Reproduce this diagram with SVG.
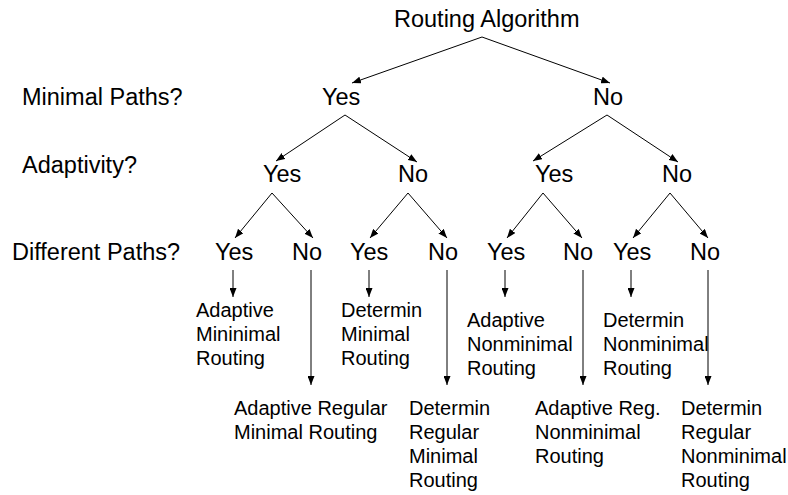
<svg xmlns="http://www.w3.org/2000/svg" width="788" height="495" viewBox="0 0 788 495">
  <style>
    text { font-family: "Liberation Sans", Arial, Helvetica, sans-serif; fill: #000; }
    .q { font-size: 23.5px; }
    .leaf { font-size: 20px; }
    .edge { stroke: #000; stroke-width: 1; fill: none; marker-end: url(#arrow); }
  </style>
  <defs>
    <marker id="arrow" viewBox="0 0 9 7" refX="9" refY="3.5" markerWidth="9" markerHeight="7" markerUnits="userSpaceOnUse" orient="auto">
      <path d="M0,0 L9,3.5 L0,7 z" fill="#000"/>
    </marker>
  </defs>

  <rect width="788" height="495" fill="#fff"/>

  <!-- question labels on the left -->
  <g id="questions">
    <text class="q" x="22" y="105">Minimal Paths?</text>
    <text class="q" x="22" y="173">Adaptivity?</text>
    <text class="q" x="12" y="260">Different Paths?</text>
  </g>

  <!-- decision tree nodes -->
  <g id="root"><text class="q" x="394" y="27">Routing Algorithm</text></g>

  <g id="min-yes"><text class="q" x="322" y="105">Yes</text></g>
  <g id="min-no"><text class="q" x="593" y="105">No</text></g>

  <g id="min-yes-adapt-yes"><text class="q" x="263" y="182">Yes</text></g>
  <g id="min-yes-adapt-no"><text class="q" x="398" y="182">No</text></g>
  <g id="min-no-adapt-yes"><text class="q" x="535" y="182">Yes</text></g>
  <g id="min-no-adapt-no"><text class="q" x="662" y="182">No</text></g>

  <g id="p1-yes"><text class="q" x="215" y="260">Yes</text></g>
  <g id="p1-no"><text class="q" x="292" y="260">No</text></g>
  <g id="p2-yes"><text class="q" x="350" y="260">Yes</text></g>
  <g id="p2-no"><text class="q" x="428" y="260">No</text></g>
  <g id="p3-yes"><text class="q" x="487" y="260">Yes</text></g>
  <g id="p3-no"><text class="q" x="563" y="260">No</text></g>
  <g id="p4-yes"><text class="q" x="613" y="260">Yes</text></g>
  <g id="p4-no"><text class="q" x="690" y="260">No</text></g>

  <!-- leaf routing classes -->
  <g id="leaf-adaptive-minimal">
    <text class="leaf" x="196" y="317">Adaptive</text>
    <text class="leaf" x="196" y="341">Mininimal</text>
    <text class="leaf" x="196" y="365">Routing</text>
  </g>
  <g id="leaf-determin-minimal">
    <text class="leaf" x="341" y="317">Determin</text>
    <text class="leaf" x="341" y="341">Minimal</text>
    <text class="leaf" x="341" y="365">Routing</text>
  </g>
  <g id="leaf-adaptive-nonminimal">
    <text class="leaf" x="467" y="327">Adaptive</text>
    <text class="leaf" x="467" y="351">Nonminimal</text>
    <text class="leaf" x="467" y="375">Routing</text>
  </g>
  <g id="leaf-determin-nonminimal">
    <text class="leaf" x="603" y="327">Determin</text>
    <text class="leaf" x="603" y="351">Nonminimal</text>
    <text class="leaf" x="603" y="375">Routing</text>
  </g>
  <g id="leaf-adaptive-regular-minimal">
    <text class="leaf" x="234" y="415">Adaptive Regular</text>
    <text class="leaf" x="234" y="439">Minimal Routing</text>
  </g>
  <g id="leaf-determin-regular-minimal">
    <text class="leaf" x="409" y="415">Determin</text>
    <text class="leaf" x="409" y="439">Regular</text>
    <text class="leaf" x="409" y="463">Minimal</text>
    <text class="leaf" x="409" y="487">Routing</text>
  </g>
  <g id="leaf-adaptive-regular-nonminimal">
    <text class="leaf" x="535" y="415">Adaptive Reg.</text>
    <text class="leaf" x="535" y="439">Nonminimal</text>
    <text class="leaf" x="535" y="463">Routing</text>
  </g>
  <g id="leaf-determin-regular-nonminimal">
    <text class="leaf" x="681" y="415">Determin</text>
    <text class="leaf" x="681" y="439">Regular</text>
    <text class="leaf" x="681" y="463">Nonminimal</text>
    <text class="leaf" x="681" y="487">Routing</text>
  </g>

  <!-- connectors -->
  <g id="connectors">
    <line class="edge" x1="482" y1="37" x2="352" y2="83"/>
    <line class="edge" x1="482" y1="37" x2="610" y2="83"/>

    <line class="edge" x1="345" y1="115" x2="276" y2="161"/>
    <line class="edge" x1="345" y1="115" x2="417" y2="162"/>
    <line class="edge" x1="607" y1="115" x2="533" y2="161"/>
    <line class="edge" x1="607" y1="115" x2="678" y2="162"/>

    <line class="edge" x1="272" y1="193" x2="235" y2="238"/>
    <line class="edge" x1="272" y1="193" x2="313" y2="238"/>
    <line class="edge" x1="408" y1="193" x2="370" y2="238"/>
    <line class="edge" x1="408" y1="193" x2="447" y2="238"/>
    <line class="edge" x1="543" y1="193" x2="507" y2="238"/>
    <line class="edge" x1="543" y1="193" x2="582" y2="238"/>
    <line class="edge" x1="670" y1="193" x2="633" y2="238"/>
    <line class="edge" x1="670" y1="193" x2="708" y2="238"/>

    <line class="edge" x1="233" y1="270" x2="233" y2="297"/>
    <line class="edge" x1="311" y1="270" x2="311" y2="385"/>
    <line class="edge" x1="369" y1="270" x2="369" y2="297"/>
    <line class="edge" x1="447" y1="270" x2="447" y2="385"/>
    <line class="edge" x1="505" y1="270" x2="505" y2="297"/>
    <line class="edge" x1="583" y1="270" x2="583" y2="385"/>
    <line class="edge" x1="631" y1="270" x2="631" y2="297"/>
    <line class="edge" x1="708" y1="270" x2="708" y2="385"/>
  </g>
</svg>
